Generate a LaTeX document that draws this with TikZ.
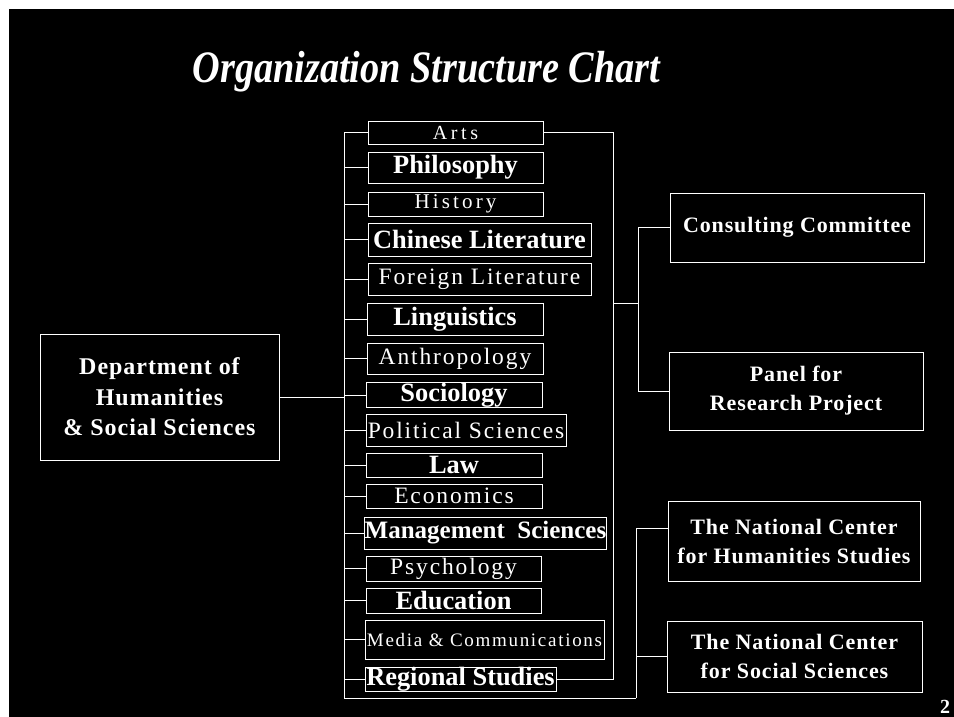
\documentclass[tikz,border=0pt]{standalone}
\usepackage{fontspec}
\setmainfont{Liberation Serif}
\newfontfamily\titlefont[FakeStretch=0.85]{Liberation Serif}
\begin{document}
\begin{tikzpicture}[x=1pt,y=-1pt,
  box/.style={draw=white, line width=1pt, inner sep=0pt, text=white, align=center},
  bld/.style={box, font=\fontsize{26.4}{29}\selectfont\bfseries},
  lite/.style={box, font=\fontsize{23.5}{26}\selectfont\addfontfeatures{LetterSpace=8}},
  side/.style={box, font=\fontsize{22}{29}\selectfont\bfseries\addfontfeatures{LetterSpace=4}},
  wire/.style={white, line width=1pt}]
\useasboundingbox (0,0) rectangle (954,717);
\fill[white] (0,0) rectangle (954,717);
\fill[black] (9,9) rectangle (954,717);
\node[text=white, anchor=base, font=\titlefont\fontsize{45}{50}\selectfont\bfseries\itshape] (title) at (426.5,83){Organization Structure Chart};
\node[box, minimum width=239, minimum height=126, font=\fontsize{24}{30.5}\selectfont\bfseries\addfontfeatures{LetterSpace=4}] (dept) at (159.5,397){Department of\\Humanities\\\& Social Sciences};
\coordinate (ltop) at (344,132.5);
\coordinate (lbot) at (344,698);
\coordinate (bcorner) at (636,698);
\draw[wire](dept.east) -- (dept.east -| ltop);
\draw[wire](ltop) -- (lbot) -- (bcorner);
\node[lite, minimum width=175, minimum height=23, font=\fontsize{20}{22}\selectfont\addfontfeatures{LetterSpace=18}] (arts) at (455.5,132.5){Arts};
\node[bld, minimum width=175, minimum height=31] (phil) at (455.5,167.5){Philosophy};
\node[lite, minimum width=175, minimum height=24, font=\fontsize{21}{24}\selectfont\addfontfeatures{LetterSpace=15}] (hist) at (455.5,204){History};
\node[bld, minimum width=223, minimum height=33] (chlit) at (479.5,239.5){Chinese Literature};
\node[lite, minimum width=223, minimum height=32] (forlit) at (479.5,279){Foreign Literature};
\node[bld, minimum width=176, minimum height=32] (ling) at (455,319){Linguistics};
\node[lite, minimum width=176, minimum height=31] (anth) at (455,358.5){Anthropology};
\node[bld, minimum width=176, minimum height=24] (soc) at (454,395){Sociology};
\node[lite, minimum width=200, minimum height=32] (polsci) at (466,430){Political Sciences};
\node[bld, minimum width=176, minimum height=24] (law) at (454,465){Law};
\node[lite, minimum width=176, minimum height=24] (econ) at (454,496){Economics};
\node[bld, minimum width=239, minimum height=32, font=\fontsize{25}{28}\selectfont\bfseries] (mgmt) at (485.5,533){Management\ \ Sciences};
\node[lite, minimum width=175, minimum height=25] (psych) at (453.5,568.5){Psychology};
\node[bld, minimum width=175, minimum height=25] (edu) at (453.5,600.5){Education};
\node[lite, minimum width=239, minimum height=39, font=\fontsize{19}{22}\selectfont\addfontfeatures{LetterSpace=9}] (media) at (484.5,639.5){Media \& Communications};
\node[bld, minimum width=191, minimum height=23] (reg) at (460.5,679.5){Regional Studies};
\foreach \d in {arts,phil,hist,chlit,forlit,ling,anth,soc,polsci,law,econ,mgmt,psych,edu,media,reg}
  \draw[wire](ltop |- \d.west) -- (\d.west);
\coordinate (rbus) at (613,303);
\coordinate (rjoin) at (638,303);
\draw[wire](arts.east) -- (arts.east -| rbus) -- (reg.east -| rbus) -- (reg.east);
\draw[wire](rbus) -- (rjoin);
\node[side, minimum width=254, minimum height=69] (consult) at (797,227.5){Consulting Committee};
\node[side, minimum width=254, minimum height=78] (panel) at (796,391){Panel for\\Research Project};
\draw[wire](consult.west) -- (consult.west -| rjoin) -- (panel.west -| rjoin) -- (panel.west);
\node[side, minimum width=252, minimum height=80] (nhum) at (794,541){The National Center\\for Humanities Studies};
\node[side, minimum width=255, minimum height=71] (nsoc) at (794.5,656.5){The National Center\\for Social Sciences};
\draw[wire]([yshift=13pt]nhum.west) -- ([yshift=13pt]nhum.west -| bcorner) -- (bcorner);
\draw[wire](nsoc.west) -- (nsoc.west -| bcorner);
\node[text=white, anchor=base, font=\fontsize{20}{22}\selectfont\bfseries] (pagenum) at (945,713){2};
\end{tikzpicture}
\end{document}
